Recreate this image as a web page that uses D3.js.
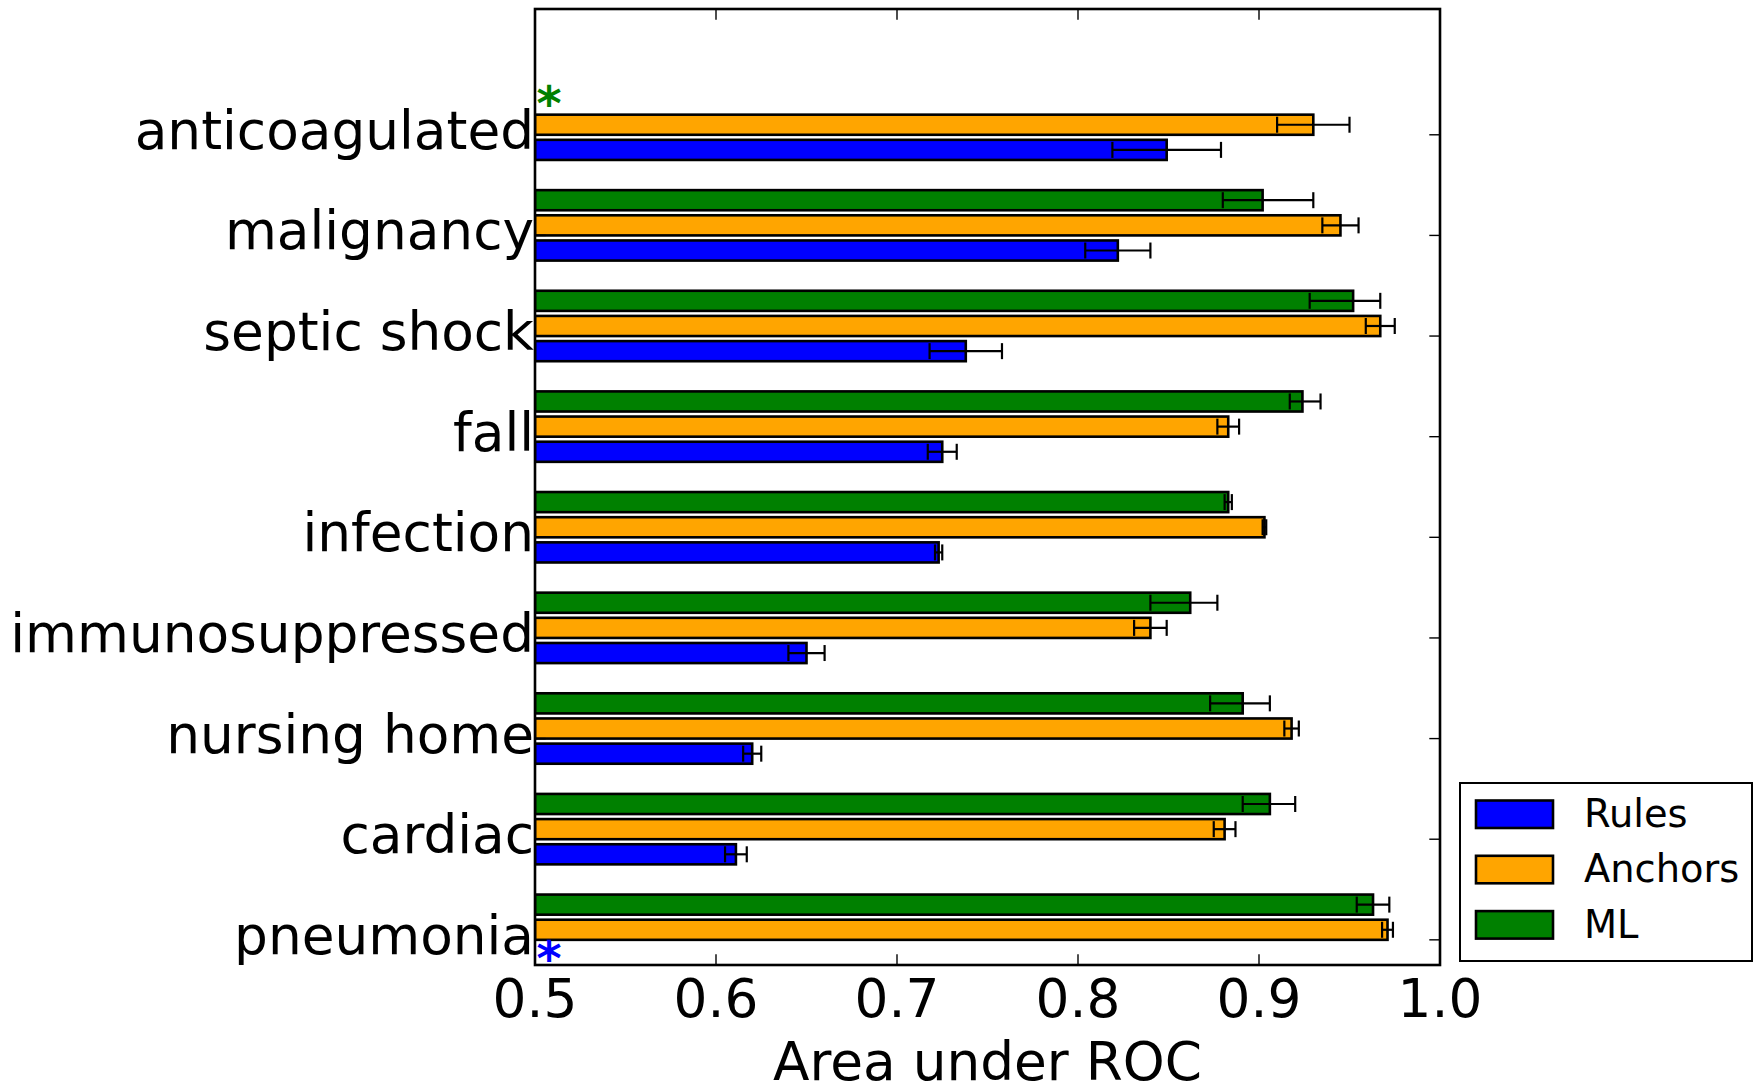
<!DOCTYPE html>
<html>
<head>
<meta charset="utf-8">
<script src="https://cdn.jsdelivr.net/npm/d3@7"></script>
<style>
  body { margin: 0; background: #fff; }
  text { font-family: "DejaVu Sans", sans-serif; fill: #000; }
</style>
</head>
<body>
<script>
var width = 1759, height = 1087;
var box = {left: 535, right: 1440, top: 9, bottom: 965};

// categories, top to bottom
const categories = ["anticoagulated", "malignancy", "septic shock", "fall", "infection",
  "immunosuppressed", "nursing home", "cardiac", "pneumonia"];
const seriesNames = ["Rules", "Anchors", "ML"];
const seriesColors = ["#0000ff", "#ffa500", "#008000"];

// AUC per category (null = not available, marked with an asterisk)
const rules     = [0.849, 0.822, 0.738, 0.725, 0.723, 0.650, 0.620, 0.611, null];
const rulesLow  = [0.819, 0.804, 0.718, 0.717, 0.721, 0.640, 0.615, 0.605, null];
const rulesHigh = [0.879, 0.840, 0.758, 0.733, 0.725, 0.660, 0.625, 0.617, null];

const anchors     = [0.930, 0.945, 0.967, 0.883, 0.903, 0.840, 0.918, 0.881, 0.971];
const anchorsLow  = [0.910, 0.935, 0.959, 0.877, 0.902, 0.831, 0.914, 0.875, 0.968];
const anchorsHigh = [0.950, 0.955, 0.975, 0.889, 0.904, 0.849, 0.922, 0.887, 0.974];

const ml     = [null, 0.902, 0.952, 0.924, 0.883, 0.862, 0.891, 0.906, 0.963];
const mlLow  = [null, 0.880, 0.928, 0.917, 0.881, 0.840, 0.873, 0.891, 0.954];
const mlHigh = [null, 0.930, 0.967, 0.934, 0.885, 0.877, 0.906, 0.920, 0.972];

const xTicks = [0.5, 0.6, 0.7, 0.8, 0.9, 1.0];
const xLabel = "Area under ROC";

var values = [rules, anchors, ml];
var lows = [rulesLow, anchorsLow, mlLow];
var highs = [rulesHigh, anchorsHigh, mlHigh];

var n = categories.length;
var barStep = 0.25, barH = 0.2;

var x = d3.scaleLinear().domain([0.5, 1.0]).range([box.left, box.right]);
var y = d3.scaleLinear().domain([0, n + 0.5]).range([box.bottom, box.top]);

var svg = d3.select("body").append("svg")
  .attr("width", width)
  .attr("height", height);

svg.append("rect").attr("width", width).attr("height", height).attr("fill", "#fff");

// build flat list of bars
var bars = [];
var missing = [];
categories.forEach(function(c, j) {
  var i = n - 1 - j;
  for (var k = 0; k < 3; k++) {
    var pos = i + k * barStep;
    if (values[k][j] == null) {
      missing.push({pos: pos, k: k});
    } else {
      bars.push({pos: pos, k: k, v: values[k][j], lo: lows[k][j], hi: highs[k][j]});
    }
  }
});

svg.append("clipPath").attr("id", "plot")
  .append("rect")
  .attr("x", box.left).attr("y", box.top)
  .attr("width", box.right - box.left).attr("height", box.bottom - box.top);

var plot = svg.append("g").attr("clip-path", "url(#plot)");

plot.selectAll("rect.bar")
  .data(bars)
  .enter().append("rect")
    .attr("class", "bar")
    .attr("x", x(0.5))
    .attr("y", function(d) { return y(d.pos + barH); })
    .attr("width", function(d) { return x(d.v) - x(0.5); })
    .attr("height", function(d) { return y(d.pos) - y(d.pos + barH); })
    .attr("fill", function(d) { return seriesColors[d.k]; })
    .attr("stroke", "#000")
    .attr("stroke-width", 2.6);

// error bars
var err = plot.selectAll("g.err")
  .data(bars)
  .enter().append("g")
    .attr("class", "err")
    .attr("stroke", "#000")
    .attr("stroke-width", 2.2);

var cap = 8;
err.append("line")
  .attr("x1", function(d) { return x(d.lo); })
  .attr("x2", function(d) { return x(d.hi); })
  .attr("y1", function(d) { return y(d.pos + barH / 2); })
  .attr("y2", function(d) { return y(d.pos + barH / 2); });
err.append("line")
  .attr("x1", function(d) { return x(d.lo); })
  .attr("x2", function(d) { return x(d.lo); })
  .attr("y1", function(d) { return y(d.pos + barH / 2) - cap; })
  .attr("y2", function(d) { return y(d.pos + barH / 2) + cap; });
err.append("line")
  .attr("x1", function(d) { return x(d.hi); })
  .attr("x2", function(d) { return x(d.hi); })
  .attr("y1", function(d) { return y(d.pos + barH / 2) - cap; })
  .attr("y2", function(d) { return y(d.pos + barH / 2) + cap; });

// asterisks for the missing bars
svg.selectAll("text.star")
  .data(missing)
  .enter().append("text")
    .attr("class", "star")
    .attr("x", x(0.5) + 14)
    .attr("y", function(d) { return y(d.pos + barH / 2) + 20; })
    .attr("text-anchor", "middle")
    .style("font-size", "48px")
    .style("font-weight", "bold")
    .style("fill", function(d) { return seriesColors[d.k]; })
    .text("*");

// ticks (inward, on all four sides)
var tickLen = 10.7;
var ticks = svg.append("g").attr("stroke", "#000").attr("stroke-width", 1.4);
xTicks.forEach(function(t) {
  ticks.append("line").attr("x1", x(t)).attr("x2", x(t))
    .attr("y1", box.bottom).attr("y2", box.bottom - tickLen);
  ticks.append("line").attr("x1", x(t)).attr("x2", x(t))
    .attr("y1", box.top).attr("y2", box.top + tickLen);
});
categories.forEach(function(c, j) {
  var ty = y(n - 1 - j + barStep);
  ticks.append("line").attr("x1", box.left).attr("x2", box.left + tickLen)
    .attr("y1", ty).attr("y2", ty);
  ticks.append("line").attr("x1", box.right).attr("x2", box.right - tickLen)
    .attr("y1", ty).attr("y2", ty);
});

// frame
svg.append("rect")
  .attr("x", box.left).attr("y", box.top)
  .attr("width", box.right - box.left).attr("height", box.bottom - box.top)
  .attr("fill", "none").attr("stroke", "#000").attr("stroke-width", 2.6);

// tick labels
svg.selectAll("text.xt")
  .data(xTicks)
  .enter().append("text")
    .attr("class", "xt")
    .attr("x", function(d) { return x(d); })
    .attr("y", box.bottom + 52)
    .attr("text-anchor", "middle")
    .style("font-size", "53.3px")
    .text(function(d) { return d.toFixed(1); });

svg.selectAll("text.yt")
  .data(categories)
  .enter().append("text")
    .attr("class", "yt")
    .attr("x", box.left - 1)
    .attr("y", function(d, j) { return y(n - 1 - j + barStep) + 14; })
    .attr("text-anchor", "end")
    .style("font-size", "53.3px")
    .text(function(d) { return d; });

svg.append("text")
  .attr("x", (box.left + box.right) / 2)
  .attr("y", 1080)
  .attr("text-anchor", "middle")
  .style("font-size", "53.3px")
  .text(xLabel);

// legend
var lg = svg.append("g").attr("transform", "translate(1460,783)");
lg.append("rect").attr("width", 292).attr("height", 178)
  .attr("fill", "#fff").attr("stroke", "#000").attr("stroke-width", 2);
var item = lg.selectAll("g.item")
  .data(seriesNames)
  .enter().append("g")
    .attr("class", "item")
    .attr("transform", function(d, k) { return "translate(0," + (31 + k * 55.3) + ")"; });
item.append("rect")
  .attr("x", 16).attr("y", -13.5).attr("width", 77).attr("height", 27.5)
  .attr("fill", function(d, k) { return seriesColors[k]; })
  .attr("stroke", "#000").attr("stroke-width", 2.6);
item.append("text")
  .attr("x", 124).attr("y", 13)
  .style("font-size", "38.4px")
  .text(function(d) { return d; });
</script>
</body>
</html>
